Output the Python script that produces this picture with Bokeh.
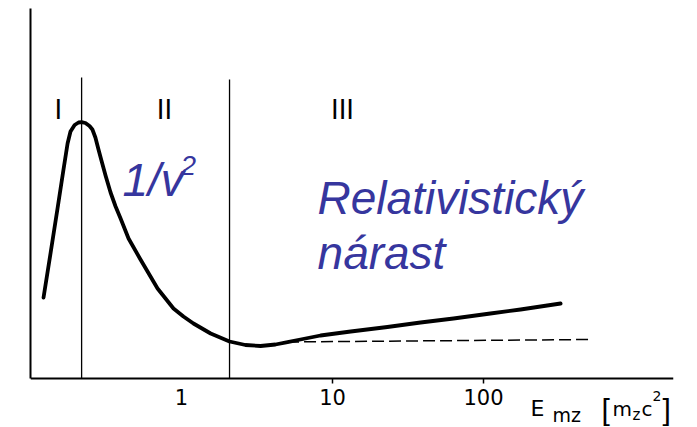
from bokeh.plotting import figure
from bokeh.models import Range1d, FixedTicker
from bokeh.core.properties import value
from bokeh.embed import file_html
from bokeh.resources import INLINE

# ---- data ----
energy = [0.122, 0.136, 0.151, 0.165, 0.176, 0.184, 0.196, 0.208, 0.218, 0.231,
          0.246, 0.257, 0.269, 0.282, 0.295, 0.314, 0.339, 0.366, 0.395, 0.446,
          0.535, 0.694, 0.885, 1.03, 1.20, 1.56, 2.08, 2.65, 3.34, 4.19,
          5.04, 6.14, 8.33, 13.2, 23.1, 38.3, 63.3, 111, 176, 324]
energy_loss = [81, 126, 170, 208, 235, 247, 253.5, 256, 256.3, 255.5,
               252.5, 249, 241, 229, 218, 203, 186, 172, 160, 140,
               119, 90, 70, 62, 55, 45, 37, 33.5, 32.5, 34,
               36.3, 39, 43, 47, 51.5, 56, 60, 65, 69, 75]
plateau_energy = [5.0, 496]
plateau_loss = [36.5, 39]
region_bounds = [0.218, 2.08]
region_tops = [301, 299]
region_names = ["I", "II", "III"]
region_label_x = [0.153, 0.772, 11.65]
tick_values = [1, 10, 100]
tick_labels = ["1", "10", "100"]

BLUE = "#36369e"

p = figure(width=697, height=427, x_axis_type="log",
           x_range=Range1d(0.1, 1812), y_range=Range1d(-49, 370),
           output_backend="svg", toolbar_location=None,
           min_border_left=30, min_border_right=24,
           min_border_top=8, min_border_bottom=0)
p.outline_line_color = None
p.grid.visible = False
p.background_fill_color = "white"
p.border_fill_color = "white"

# x axis, drawn at the zero of the loss scale
xa = p.xaxis[0]
xa.fixed_location = 0
xa.ticker = FixedTicker(ticks=tick_values, minor_ticks=tick_values[1:])
xa.major_label_overrides = {v: l for v, l in zip(tick_values, tick_labels)}
xa.major_tick_line_color = None
xa.major_tick_out = 0
xa.major_tick_in = 0
xa.minor_tick_out = 5
xa.minor_tick_in = 0
xa.minor_tick_line_width = 1.5
xa.minor_tick_line_color = "black"
xa.axis_line_width = 2
xa.axis_line_color = "black"
xa.major_label_text_font = "DejaVu Sans"
xa.major_label_text_font_size = "21px"
xa.major_label_text_color = "black"
xa.major_label_standoff = 5

# y axis: just a line
ya = p.yaxis[0]
ya.bounds = (0, 370)
ya.ticker = FixedTicker(ticks=[])
ya.major_tick_line_color = None
ya.minor_tick_line_color = None
ya.major_label_text_font_size = "0px"
ya.axis_line_width = 2
ya.axis_line_color = "black"

# region boundaries
p.segment(x0=region_bounds, y0=[0, 0], x1=region_bounds, y1=region_tops,
          line_color="black", line_width=1.3)

# plateau (dashed)
p.line(plateau_energy, plateau_loss, line_color="black", line_width=1.5,
       line_dash="12 5")

# main curve
p.line(energy, energy_loss, line_color="black", line_width=3.8,
       line_join="round", line_cap="round")

# region labels
p.text(x=region_label_x, y=[269] * 3, text=region_names,
       text_font=value("DejaVu Sans"), text_font_size="26px",
       text_color="black", text_align="center", text_baseline="alphabetic")

# blue annotations
p.text(x=[0.4067], y=[199], text=["1/v"], text_font=value("Liberation Sans"),
       text_font_style="italic", text_font_size="46px", text_color=BLUE,
       text_baseline="alphabetic")
p.text(x=[0.985], y=[213], text=["2"], text_font=value("Liberation Sans"),
       text_font_style="italic", text_font_size="28px", text_color=BLUE,
       text_baseline="alphabetic")
p.text(x=[7.96, 7.96], y=[181, 126], text=["Relativistický", "nárast"],
       text_font=value("Liberation Sans"), text_font_style="italic",
       text_font_size="46px", text_color=BLUE, text_baseline="alphabetic")

# axis quantity label: E_mz [m_z c^2]
def lab(x, y, t, size, font="DejaVu Sans"):
    p.text(x=[x], y=[y], text=[t], text_font=value(font),
           text_font_size=size, text_color="black",
           text_baseline="alphabetic")

lab(204.8, -30, "E", "22px")
lab(286.4, -36, "mz", "19px")
lab(604.5, -31, "[", "30px", "Liberation Sans")
lab(715, -30, "m", "20px")
lab(970, -36, "z", "15px")
lab(1113, -30, "c", "20px")
lab(1316, -17, "2", "14px")
lab(1532, -31, "]", "30px", "Liberation Sans")

open("out.html", "w").write(file_html(p, INLINE))
